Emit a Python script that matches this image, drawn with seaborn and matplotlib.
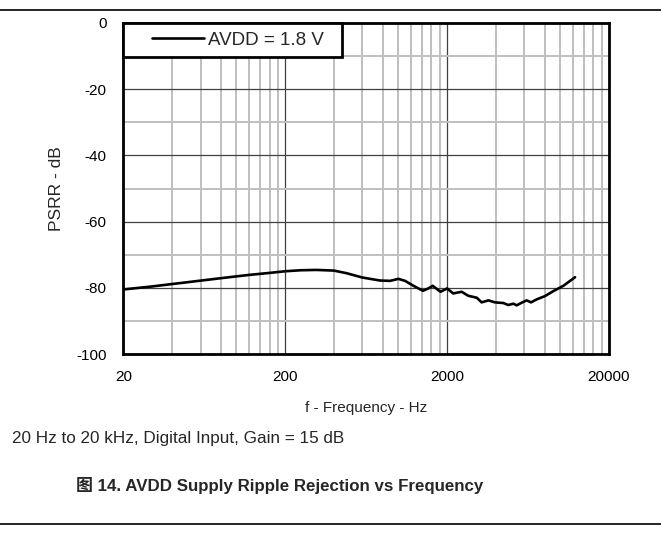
import numpy as np
import pandas as pd
import seaborn as sns
import matplotlib
matplotlib.use("Agg")
import matplotlib.pyplot as plt
from matplotlib.ticker import FixedLocator, NullFormatter
from matplotlib.lines import Line2D
from matplotlib.legend_handler import HandlerLine2D

# PSRR curve (AVDD = 1.8 V)
freq = [20, 30, 50, 80, 120, 160, 200, 250, 310, 400, 480, 600, 770, 890,
        1000, 1100, 1240, 1420, 1530, 1630, 1820, 2000, 2180, 2460, 2700,
        3050, 3270, 3600, 3950, 4450, 4780, 5130, 5380, 5780, 6200, 6600,
        7150, 8050, 9060, 10450, 12340]
psrr = [-80.5, -79.6, -78.3, -77.1, -76.1, -75.5, -75.0, -74.7, -74.6, -74.8,
        -75.6, -76.9, -77.8, -77.9, -77.3, -77.9, -79.4, -80.9, -80.2, -79.4,
        -81.2, -80.2, -81.7, -81.2, -82.4, -83.0, -84.4, -83.8, -84.4, -84.6,
        -85.2, -84.8, -85.3, -84.5, -83.8, -84.4, -83.5, -82.5, -81.0, -79.4,
        -76.8]
series_name = "AVDD = 1.8 V"

x_major = [20, 200, 2000, 20000]
y_major = [0, -20, -40, -60, -80, -100]
y_minor = [-10, -30, -50, -70, -90]

df = pd.DataFrame({"f": freq, "psrr": psrr})

sns.set_style("white")
plt.rcParams["font.family"] = ["Liberation Sans", "Noto Sans CJK SC", "DejaVu Sans"]
plt.rcParams["axes.unicode_minus"] = False

fig = plt.figure(figsize=(6.61, 5.39), dpi=100)
ax = fig.add_axes([123.3 / 661, 1 - 354 / 539, 485.7 / 661, 331 / 539])

sns.lineplot(data=df, x="f", y="psrr", ax=ax, color="black", linewidth=1.9,
             zorder=5)

ax.set_xscale("log")
ax.set_xlim(20, 20000)
ax.set_ylim(-100, 0)

# minor grid at every multiple of 20, 200, 2000 inside each decade
minors = [m * b for b in (20, 200, 2000) for m in range(2, 10)]
ax.xaxis.set_major_locator(FixedLocator(x_major))
ax.xaxis.set_minor_locator(FixedLocator(minors))
ax.xaxis.set_minor_formatter(NullFormatter())
ax.set_xticklabels([str(v) for v in x_major])
ax.yaxis.set_major_locator(FixedLocator(y_major))
ax.yaxis.set_minor_locator(FixedLocator(y_minor))
ax.set_yticklabels([str(v) for v in y_major])

ax.grid(which="minor", color="#bfbfbf", linewidth=1.4, zorder=1)
ax.grid(which="major", color="#404040", linewidth=0.9, zorder=2)
ax.set_axisbelow(True)

ax.tick_params(which="both", length=0, labelsize=11, colors="black")
ax.tick_params(axis="x", pad=11.5)
ax.tick_params(axis="y", pad=12)

for s in ax.spines.values():
    s.set_visible(True)
    s.set_color("black")
    s.set_linewidth(2)

ax.set_xlabel("f - Frequency - Hz", fontsize=11, labelpad=12)
ax.set_ylabel("PSRR - dB", fontsize=12.5, labelpad=9)

handle = Line2D([], [], color="black", linewidth=1.9)
leg = ax.legend([handle], [series_name], loc="upper left",
                bbox_to_anchor=(0, 0, 0.45, 1), mode="expand",
                borderaxespad=0, borderpad=0.45, handlelength=3.85,
                handletextpad=0.2, fontsize=13.5, fancybox=False,
                framealpha=1, edgecolor="black",
                handler_map={Line2D: HandlerLine2D(xpad=1.1)})
leg.get_frame().set_linewidth(2)
leg.set_zorder(10)

fig.text(12 / 661, 1 - 438 / 539, "20 Hz to 20 kHz, Digital Input, Gain = 15 dB",
         fontsize=12.3, ha="left", va="center")
fig.text(280 / 661, 1 - 486 / 539, "图 14. AVDD Supply Ripple Rejection vs Frequency",
         fontsize=12.2, fontweight="bold", ha="center", va="center")

fig.add_artist(Line2D([0, 1], [1 - 10 / 539, 1 - 10 / 539], color="black",
                      linewidth=1.2, transform=fig.transFigure))
fig.add_artist(Line2D([0, 1], [1 - 524 / 539, 1 - 524 / 539], color="black",
                      linewidth=1.2, transform=fig.transFigure))

fig.savefig("out.png", dpi=100)
